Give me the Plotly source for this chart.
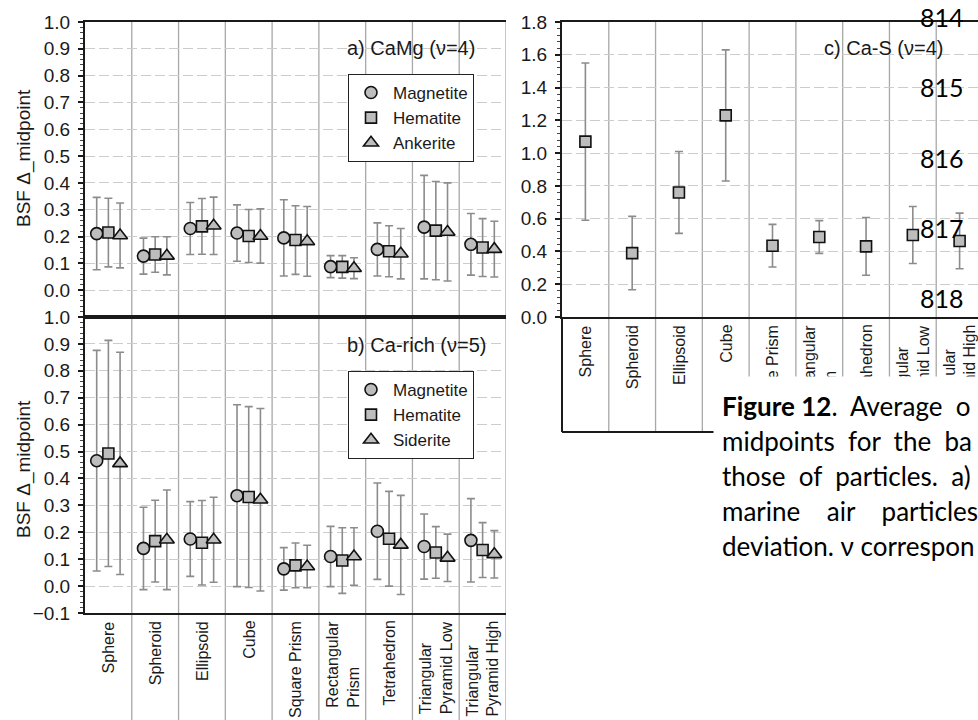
import plotly.graph_objects as go

# ---------------- data ----------------
categories = ["Sphere", "Spheroid", "Ellipsoid", "Cube", "Square Prism",
              "Rectangular<br>Prism", "Tetrahedron",
              "Triangular<br>Pyramid Low", "Triangular<br>Pyramid High"]

# a) CaMg (v=4)
a_names = ["Magnetite", "Hematite", "Ankerite"]
a_magnetite = [0.211, 0.127, 0.230, 0.213, 0.195, 0.088, 0.152, 0.235, 0.171]
a_magnetite_sd = [0.135, 0.067, 0.097, 0.105, 0.142, 0.041, 0.099, 0.193, 0.115]
a_hematite = [0.215, 0.133, 0.238, 0.202, 0.187, 0.087, 0.145, 0.222, 0.159]
a_hematite_sd = [0.128, 0.066, 0.104, 0.099, 0.128, 0.042, 0.095, 0.183, 0.108]
a_ankerite = [0.204, 0.128, 0.240, 0.202, 0.182, 0.082, 0.136, 0.217, 0.153]
a_ankerite_sd = [0.121, 0.071, 0.107, 0.101, 0.130, 0.039, 0.094, 0.183, 0.104]

# b) Ca-rich (v=5)
b_names = ["Magnetite", "Hematite", "Siderite"]
b_magnetite = [0.466, 0.140, 0.175, 0.336, 0.064, 0.110, 0.204, 0.147, 0.170]
b_magnetite_sd = [0.410, 0.153, 0.139, 0.338, 0.079, 0.112, 0.179, 0.121, 0.155]
b_hematite = [0.493, 0.167, 0.161, 0.331, 0.077, 0.095, 0.176, 0.125, 0.134]
b_hematite_sd = [0.420, 0.152, 0.157, 0.336, 0.083, 0.122, 0.176, 0.096, 0.102]
b_siderite = [0.456, 0.172, 0.172, 0.321, 0.073, 0.110, 0.153, 0.105, 0.118]
b_siderite_sd = [0.413, 0.185, 0.158, 0.339, 0.079, 0.107, 0.184, 0.088, 0.088]

# c) Ca-S (v=4)
c_hematite = [1.07, 0.39, 0.76, 1.23, 0.435, 0.488, 0.431, 0.500, 0.464]
c_hematite_sd = [0.48, 0.224, 0.25, 0.40, 0.130, 0.100, 0.176, 0.174, 0.170]

a_yticks = [0.0, 0.1, 0.2, 0.3, 0.4, 0.5, 0.6, 0.7, 0.8, 0.9, 1.0]
b_yticks = [-0.1, 0.0, 0.1, 0.2, 0.3, 0.4, 0.5, 0.6, 0.7, 0.8, 0.9, 1.0]
c_yticks = [0.0, 0.2, 0.4, 0.6, 0.8, 1.0, 1.2, 1.4, 1.6, 1.8]

panel_labels = ["a) CaMg (\u03bd=4)", "b) Ca-rich (\u03bd=5)", "c) Ca-S (\u03bd=4)"]
y_title = "BSF \u0394_midpoint"
caption_lines = ["<b>Figure\u00a012</b>.\u00a0 Average\u00a0 o",
                 "midpoints\u00a0 for\u00a0 the\u00a0 ba",
                 "those\u00a0 of\u00a0 particles.\u00a0 a)",
                 "marine\u00a0\u00a0\u00a0 air\u00a0\u00a0\u00a0 particles",
                 "deviation. \u03bd correspon"]
line_numbers = ["814", "815", "816", "817", "818"]

# ---------------- layout helpers ----------------
W, H = 978, 720
def px_x(p):
    return p / W
def px_y(p):
    return 1 - p / H

FONT = "Liberation Sans, Arial, sans-serif"
CAPFONT = "Lato, Carlito, Calibri, sans-serif"
INK = "#1a1a1a"

n = len(categories)
idx = list(range(n))
symbols = ["circle", "square", "triangle-up"]
sizes = [12, 11, 13]
offsets = [-0.25, 0.0, 0.25]

AB_LEFT, AB_RIGHT = 85, 506
C_LEFT = 562
cat_px = (AB_RIGHT - AB_LEFT) / n
c_range_end = -0.5 + (W - C_LEFT) / cat_px

fig = go.Figure()

def add_series(name, means, sds, k, xaxis, yaxis, legend, showlegend=True):
    fig.add_trace(go.Scatter(
        x=[i + offsets[k] for i in idx], y=means, name=name, mode="markers",
        marker=dict(symbol=symbols[k], size=sizes[k], color="#bdbdbd",
                    line=dict(color="#111111", width=1.6)),
        error_y=dict(type="data", array=sds, visible=True, color="#8c8c8c",
                     thickness=1.6, width=4),
        xaxis=xaxis, yaxis=yaxis, legend=legend, showlegend=showlegend))

for k, (nm, m, s) in enumerate(zip(a_names, [a_magnetite, a_hematite, a_ankerite],
                                   [a_magnetite_sd, a_hematite_sd, a_ankerite_sd])):
    add_series(nm, m, s, k, "x", "y", "legend")
for k, (nm, m, s) in enumerate(zip(b_names, [b_magnetite, b_hematite, b_siderite],
                                   [b_magnetite_sd, b_hematite_sd, b_siderite_sd])):
    add_series(nm, m, s, k, "x2", "y2", "legend2")
fig.add_trace(go.Scatter(
    x=idx, y=c_hematite, name="Hematite", mode="markers",
    marker=dict(symbol="square", size=11, color="#bdbdbd", line=dict(color="#111111", width=1.6)),
    error_y=dict(type="data", array=c_hematite_sd, visible=True, color="#8c8c8c", thickness=1.6, width=4),
    xaxis="x3", yaxis="y3", showlegend=False))

xcommon = dict(showgrid=False, zeroline=False, showticklabels=False, ticks="",
               showline=True, linecolor=INK, linewidth=2, mirror=True, automargin=False)
ycommon = dict(zeroline=False, showline=True, linecolor=INK, linewidth=2,
               ticks="outside", ticklen=5, tickwidth=1.5, tickcolor=INK,
               tickfont=dict(family=FONT, size=19, color=INK), tickformat=".1f",
               showgrid=True, gridcolor="#cccccc", gridwidth=1, griddash="10px,4px",
               ticklabelstandoff=4, automargin=False)

legend_style = dict(xanchor="left", yanchor="top", bgcolor="white",
                    bordercolor="#222", borderwidth=1, itemwidth=34, tracegroupgap=0,
                    font=dict(family=FONT, size=17, color=INK))

fig.update_layout(
    width=W, height=H, margin=dict(l=0, r=0, t=0, b=0, pad=0, autoexpand=False),
    paper_bgcolor="white", plot_bgcolor="rgba(0,0,0,0)",
    xaxis=dict(domain=[px_x(AB_LEFT), px_x(AB_RIGHT)], range=[-0.5, n - 0.5], anchor="y", **xcommon),
    yaxis=dict(domain=[px_y(317), px_y(22)], range=[-0.1, 1.0], tickvals=a_yticks, anchor="x",
               minor=dict(ticks="outside", ticklen=3, tickwidth=1, tickcolor="#444", dtick=0.02, showgrid=False),
               **ycommon),
    xaxis2=dict(domain=[px_x(AB_LEFT), px_x(AB_RIGHT)], range=[-0.5, n - 0.5], anchor="y2", **xcommon),
    yaxis2=dict(domain=[px_y(613), px_y(317)], range=[-0.1, 1.0], tickvals=b_yticks, anchor="x2",
                minor=dict(ticks="outside", ticklen=3, tickwidth=1, tickcolor="#444", dtick=0.02, showgrid=False),
                **ycommon),
    xaxis3=dict(domain=[px_x(C_LEFT), 1.0], range=[-0.5, c_range_end], anchor="y3", **xcommon),
    yaxis3=dict(domain=[px_y(317), px_y(22)], range=[0, 1.8], tickvals=c_yticks, anchor="x3",
                minor=dict(ticks="outside", ticklen=3, tickwidth=1, tickcolor="#444", dtick=0.04, showgrid=False),
                **ycommon),
    legend=dict(x=px_x(348), y=px_y(74), **legend_style),
    legend2=dict(x=px_x(348), y=px_y(371), **legend_style),
)

# category separator lines
shapes = []
for k in range(n):
    shapes.append(dict(type="line", xref="x", yref="paper", x0=k + 0.5, x1=k + 0.5,
                       y0=0, y1=px_y(22), line=dict(color="#a8a8a8", width=1.3), layer="below"))
for k in range(n - 1):
    shapes.append(dict(type="line", xref="x3", yref="paper", x0=k + 0.5, x1=k + 0.5,
                       y0=px_y(432), y1=px_y(22), line=dict(color="#a8a8a8", width=1.3), layer="below"))
shapes.append(dict(type="line", xref="paper", yref="paper", x0=px_x(C_LEFT), x1=px_x(C_LEFT),
                   y0=px_y(432), y1=px_y(317), line=dict(color=INK, width=2)))
shapes.append(dict(type="line", xref="paper", yref="paper", x0=px_x(C_LEFT), x1=1,
                   y0=px_y(432), y1=px_y(432), line=dict(color=INK, width=2)))
fig.update_layout(shapes=shapes)

ann = []
# category labels (rotated, left-aligned lines)
for i, c in enumerate(categories):
    ann.append(dict(x=i, xref="x2", y=px_y(619), yref="paper", text=c, showarrow=False,
                    textangle=-90, align="left", xanchor="center", yanchor="top",
                    font=dict(family=FONT, size=16, color=INK)))
    ann.append(dict(x=i, xref="x3", y=px_y(323), yref="paper", text=c, showarrow=False,
                    textangle=-90, align="left", xanchor="center", yanchor="top",
                    font=dict(family=FONT, size=16, color=INK)))
# white caption box covering part of panel c
ann.append(dict(x=px_x(713), y=px_y(376), xref="paper", yref="paper", text=" ", showarrow=False,
                xanchor="left", yanchor="top", width=W - 713, height=H - 376, borderpad=0,
                bgcolor="white"))
# y titles
for yc in (158, 469):
    ann.append(dict(x=px_x(24), y=px_y(yc), xref="paper", yref="paper", text=y_title, showarrow=False,
                    textangle=-90, xanchor="center", yanchor="middle",
                    font=dict(family=FONT, size=19, color=INK)))
# panel labels
for txt, xr, yc in zip(panel_labels, (477, 488, 945), (48, 345, 48)):
    ann.append(dict(x=px_x(xr), y=px_y(yc), xref="paper", yref="paper", text=txt, showarrow=False,
                    xanchor="right", yanchor="middle", font=dict(family=FONT, size=20, color=INK)))
# caption text
for j, line in enumerate(caption_lines):
    ann.append(dict(x=px_x(720), y=px_y(406 + 35 * j), xref="paper", yref="paper", text=line,
                    showarrow=False, xanchor="left", yanchor="middle",
                    font=dict(family=CAPFONT, size=26, color="black")))
# page line numbers
for j, ln in enumerate(line_numbers):
    ann.append(dict(x=px_x(942), y=px_y(17 + 70.3 * j), xref="paper", yref="paper", text=ln,
                    showarrow=False, xanchor="center", yanchor="middle",
                    font=dict(family=CAPFONT, size=25, color="black")))
fig.update_layout(annotations=ann)

fig.write_html("out.html", config={"displayModeBar": False},
               post_script="document.body.style.margin='0';document.body.style.overflow='hidden';")
